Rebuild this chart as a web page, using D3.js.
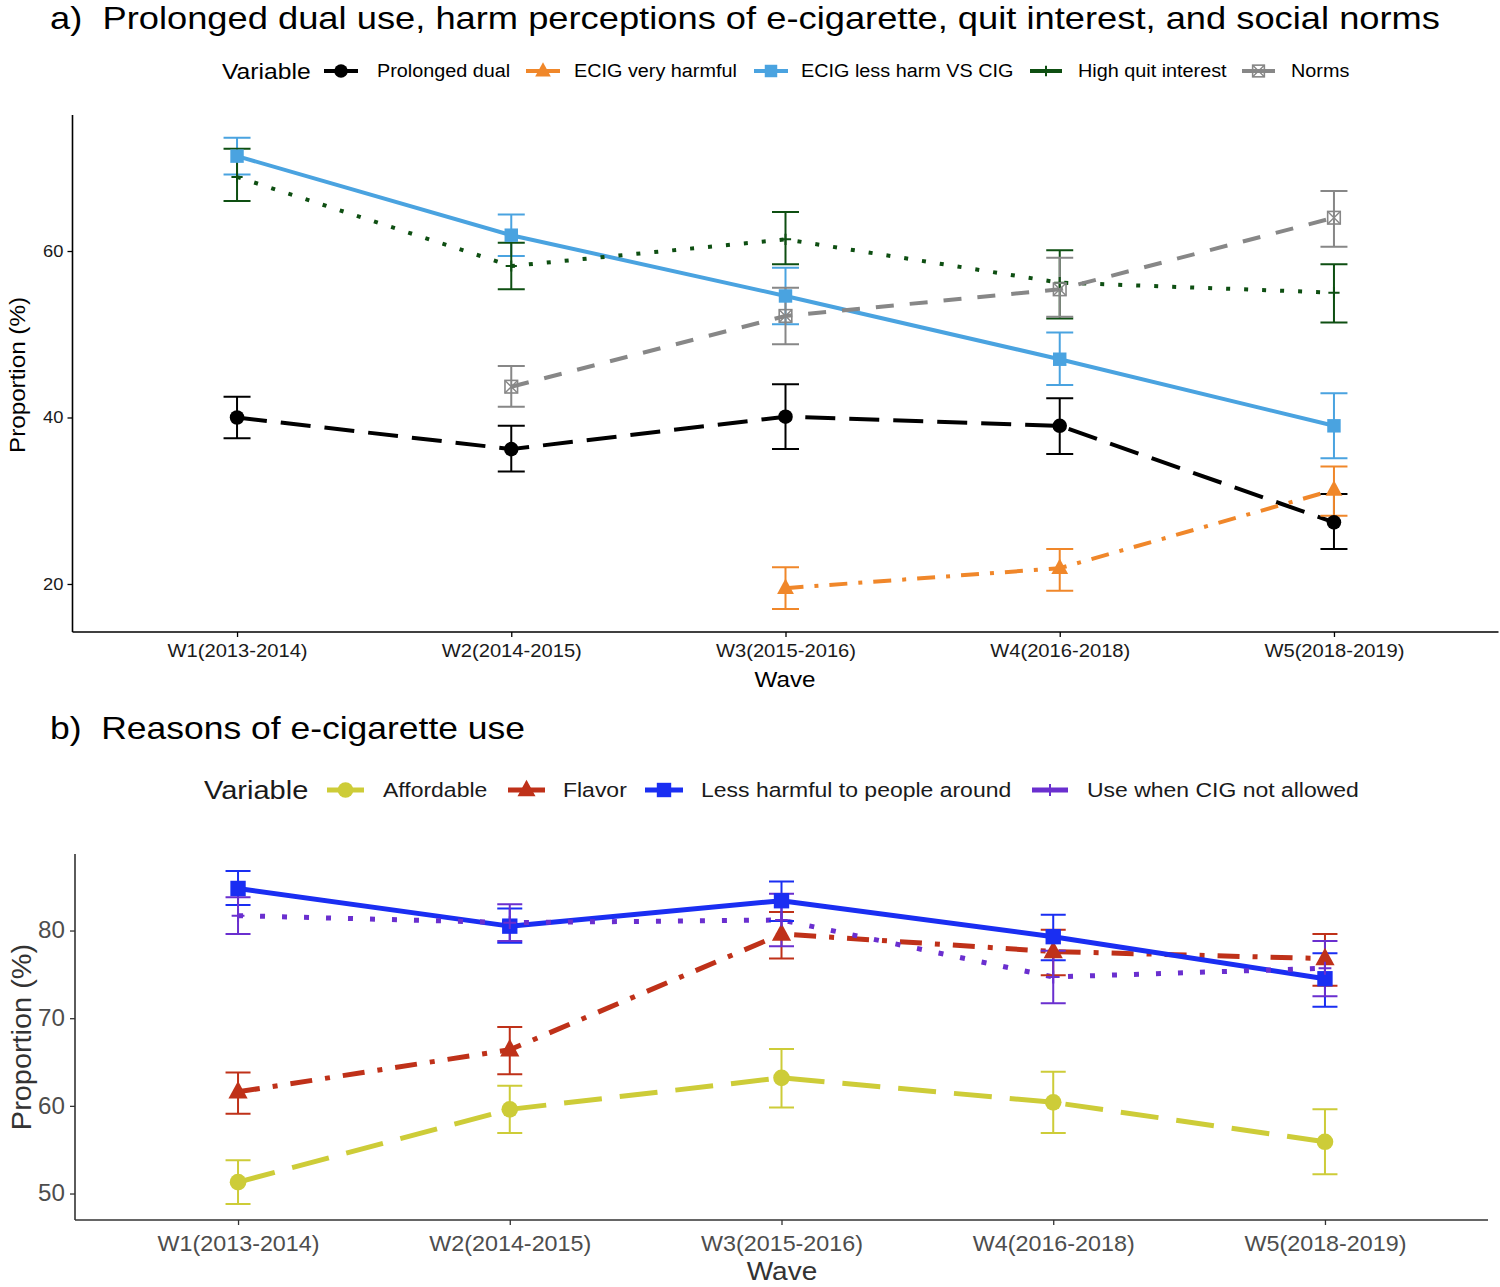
<!DOCTYPE html>
<html><head><meta charset="utf-8">
<script src="https://cdn.jsdelivr.net/npm/d3@7"></script>
<style>body{margin:0;background:#fff}svg{display:block}text{font-family:"Liberation Sans",Arial,sans-serif;white-space:pre}</style>
</head><body>
<svg id="c" width="1500" height="1287"></svg>
<script>
// ---------- DATA ----------
const waves = ["W1(2013-2014)","W2(2014-2015)","W3(2015-2016)","W4(2016-2018)","W5(2018-2019)"];

// Panel a
const seriesA = ["Prolonged dual","ECIG very harmful","ECIG less harm VS CIG","High quit interest","Norms"];
const dualVal  = [40.0, 36.2, 40.1, 39.0, 27.4];
const dualLo   = [37.5, 33.5, 36.2, 35.6, 24.2];
const dualHi   = [42.5, 39.0, 44.0, 42.3, 30.8];
const harmVal  = [null, null, 19.5, 21.9, 31.3];
const harmLo   = [null, null, 17.0, 19.2, 28.2];
const harmHi   = [null, null, 22.0, 24.2, 34.1];
const lessVal  = [71.4, 61.9, 54.6, 47.0, 39.0];
const lessLo   = [69.2, 59.4, 51.2, 43.9, 35.1];
const lessHi   = [73.6, 64.4, 58.0, 50.2, 42.9];
const quitVal  = [68.9, 58.2, 61.4, 56.2, 55.0];
const quitLo   = [66.0, 55.4, 58.4, 51.9, 51.4];
const quitHi   = [72.3, 61.0, 64.7, 60.1, 58.4];
const normVal  = [null, 43.7, 52.2, 55.4, 64.0];
const normLo   = [null, 41.3, 48.8, 52.1, 60.5];
const normHi   = [null, 46.2, 55.6, 59.2, 67.2];

// Panel b
const seriesB = ["Affordable","Flavor","Less harmful to people around","Use when CIG not allowed"];
const affVal  = [51.3, 59.6, 63.2, 60.4, 55.9];
const affLo   = [48.8, 56.9, 59.8, 56.9, 52.2];
const affHi   = [53.8, 62.3, 66.5, 63.9, 59.6];
const flavVal = [61.6, 66.4, 79.6, 77.6, 76.8];
const flavLo  = [59.1, 63.6, 76.8, 74.9, 73.7];
const flavHi  = [63.8, 69.0, 82.1, 80.1, 79.6];
const peopVal = [84.8, 80.5, 83.4, 79.3, 74.5];
const peopLo  = [82.9, 78.6, 81.1, 76.6, 71.3];
const peopHi  = [86.8, 82.5, 85.6, 81.8, 77.4];
const allowVal= [81.7, 80.9, 81.2, 74.7, 75.7];
const allowLo = [79.6, 78.8, 78.2, 71.7, 72.5];
const allowHi = [83.8, 83.0, 84.2, 77.7, 78.8];

const yTicksA = [20, 40, 60];
const yTicksB = [50, 60, 70, 80];

// ---------- STYLES ----------
const stylesA = [
  {vals:dualVal, lo:dualLo, hi:dualHi, color:"#000000", dash:"30,14", shape:"circle", lw:4},
  {vals:harmVal, lo:harmLo, hi:harmHi, color:"#F0872A", dash:"18,11,4,11", shape:"triangle", lw:4},
  {vals:lessVal, lo:lessLo, hi:lessHi, color:"#4AA3E0", dash:null, shape:"square", lw:4},
  {vals:quitVal, lo:quitLo, hi:quitHi, color:"#0E4F12", dash:"4,14", shape:"plus", lw:4},
  {vals:normVal, lo:normLo, hi:normHi, color:"#878787", dash:"18,16", shape:"sqx", lw:4}
];
const stylesB = [
  {vals:affVal, lo:affLo, hi:affHi, color:"#CDCC38", dash:"38,18", shape:"circle", lw:5},
  {vals:flavVal, lo:flavLo, hi:flavHi, color:"#BF3119", dash:"22,13,5,13", shape:"triangle", lw:5},
  {vals:peopVal, lo:peopLo, hi:peopHi, color:"#1A2EF2", dash:null, shape:"square", lw:5},
  {vals:allowVal, lo:allowLo, hi:allowHi, color:"#6A2FCF", dash:"5,17", shape:"plus", lw:5}
];

const svg = d3.select("#c");

function stretch(sel, f) {
  sel.each(function() {
    const l = this.getComputedTextLength();
    this.setAttribute("textLength", (l * f).toFixed(1));
    this.setAttribute("lengthAdjust", "spacingAndGlyphs");
  });
  return sel;
}

function marker(g, shape, x, y, color, s) {
  if (shape === "circle") {
    g.append("circle").attr("cx", x).attr("cy", y).attr("r", s*0.52).attr("fill", color);
  } else if (shape === "square") {
    g.append("rect").attr("x", x-s*0.48).attr("y", y-s*0.48).attr("width", s*0.96).attr("height", s*0.96).attr("fill", color);
  } else if (shape === "triangle") {
    const h = s*1.1, w = s*1.2;
    g.append("path").attr("d", `M${x},${y-h*0.62}L${x+w/2},${y+h*0.38}L${x-w/2},${y+h*0.38}Z`).attr("fill", color);
  } else if (shape === "plus") {
    const r = s*0.4;
    g.append("path").attr("d", `M${x-r},${y}H${x+r}M${x},${y-r}V${y+r}`).attr("stroke", color).attr("stroke-width", 2).attr("fill","none");
  } else if (shape === "sqx") {
    const r = s*0.45;
    g.append("rect").attr("x", x-r).attr("y", y-r).attr("width", 2*r).attr("height", 2*r).attr("fill","none").attr("stroke", color).attr("stroke-width", 1.6);
    g.append("path").attr("d", `M${x-r},${y-r}L${x+r},${y+r}M${x+r},${y-r}L${x-r},${y+r}`).attr("stroke", color).attr("stroke-width", 1.4);
  }
}

function panel(opts) {
  const {xRange, yDomain, yRange, yTicks, styles, capW, mSize, xFont, yFont, xPad, yPad, tickColor, axisColor, xStretch, yStretch} = opts;
  const x = d3.scalePoint().domain(waves).range(xRange).padding(0.6);
  const y = d3.scaleLinear().domain(yDomain).range(yRange);
  const g = svg.append("g");

  const yAx = g.append("g").attr("transform", `translate(${xRange[0]},0)`)
    .call(d3.axisLeft(y).tickValues(yTicks).tickSize(5).tickPadding(yPad).tickSizeOuter(0));
  const xAx = g.append("g").attr("transform", `translate(0,${yRange[0]})`)
    .call(d3.axisBottom(x).tickSize(5).tickPadding(xPad).tickSizeOuter(0));
  [yAx, xAx].forEach(a => {
    a.select(".domain").attr("stroke", axisColor).attr("stroke-width", 1.6);
    a.selectAll(".tick line").attr("stroke", axisColor).attr("stroke-width", 1.3);
    a.selectAll("text").attr("fill", tickColor).attr("font-family", "Liberation Sans, Arial, sans-serif");
  });
  yAx.selectAll("text").attr("font-size", yFont);
  xAx.selectAll("text").attr("font-size", xFont);
  stretch(yAx.selectAll("text"), yStretch);
  stretch(xAx.selectAll("text"), xStretch);
  yAx.select(".domain").attr("d", `M0,${yRange[1]}V${yRange[0]}`);
  xAx.select(".domain").attr("d", `M${xRange[0]},0H${xRange[1]}`);

  styles.forEach(s => {
    const pts = waves.map((w,i) => s.vals[i] == null ? null : [x(w), y(s.vals[i])]).filter(p => p);
    g.append("path").attr("d", d3.line()(pts)).attr("fill","none").attr("stroke", s.color)
      .attr("stroke-width", s.lw).attr("stroke-dasharray", s.dash).attr("stroke-linejoin","round");
  });
  styles.forEach(s => {
    const eg = g.append("g").attr("stroke", s.color).attr("stroke-width", 2).attr("fill","none");
    waves.forEach((w,i) => {
      if (s.vals[i] == null) return;
      const cx = x(w), yl = y(s.lo[i]), yh = y(s.hi[i]);
      eg.append("path").attr("d", `M${cx},${yl}V${yh}M${cx-capW/2},${yl}H${cx+capW/2}M${cx-capW/2},${yh}H${cx+capW/2}`);
    });
  });
  styles.forEach(s => {
    const mg = g.append("g");
    waves.forEach((w,i) => {
      if (s.vals[i] == null) return;
      marker(mg, s.shape, x(w), y(s.vals[i]), s.color, mSize);
    });
  });
  return {x, y};
}

// Panel a
panel({xRange:[72.5, 1498.5], yDomain:[14.23, 76.34], yRange:[632, 115], yTicks:yTicksA,
  styles:stylesA, capW:27, mSize:14, xFont:"18px", yFont:"17px", xPad:7, yPad:4,
  tickColor:"#1a1a1a", axisColor:"#000", xStretch:1.12, yStretch:1.08});
// Panel b
panel({xRange:[75, 1488], yDomain:[46.98, 88.73], yRange:[1220, 854], yTicks:yTicksB,
  styles:stylesB, capW:25, mSize:16, xFont:"22px", yFont:"23px", xPad:10, yPad:5,
  tickColor:"#4d4d4d", axisColor:"#333", xStretch:1.06, yStretch:1.05});

// titles
svg.append("text").attr("x", 50).attr("y", 29).attr("font-size", 32).attr("fill","#000")
  .attr("textLength", 1390).attr("lengthAdjust","spacingAndGlyphs")
  .text("a)  Prolonged dual use, harm perceptions of e-cigarette, quit interest, and social norms");
svg.append("text").attr("x", 50).attr("y", 739).attr("font-size", 32).attr("fill","#000")
  .attr("textLength", 475).attr("lengthAdjust","spacingAndGlyphs")
  .text("b)  Reasons of e-cigarette use");

// axis titles
stretch(svg.append("text").attr("x", 785).attr("y", 687).attr("text-anchor","middle").attr("font-size", 22).text("Wave"), 1.1);
stretch(svg.append("text").attr("transform","translate(25,375) rotate(-90)").attr("text-anchor","middle").attr("font-size", 22).text("Proportion (%)"), 1.1);
stretch(svg.append("text").attr("x", 782).attr("y", 1280).attr("text-anchor","middle").attr("font-size", 25).attr("fill","#333").text("Wave"), 1.12);
stretch(svg.append("text").attr("transform","translate(31,1037) rotate(-90)").attr("text-anchor","middle").attr("font-size", 27).attr("fill","#333").text("Proportion (%)"), 1.07);

// legends
function legend(names, styles, opts) {
  const {y, titleX, titleSize, labelSize, keyXs, textXs, mSize, color, tStretch, lStretch} = opts;
  const g = svg.append("g");
  stretch(g.append("text").attr("x", titleX).attr("y", y + titleSize*0.36).attr("font-size", titleSize).attr("fill", color).text("Variable"), tStretch);
  names.forEach((n,i) => {
    const s = styles[i];
    const k0 = keyXs[i][0], k1 = keyXs[i][1], km = (k0+k1)/2;
    g.append("line").attr("x1", k0).attr("x2", k1).attr("y1", y).attr("y2", y).attr("stroke", s.color).attr("stroke-width", s.lw);
    marker(g, s.shape, km, y, s.color, mSize);
    stretch(g.append("text").attr("x", textXs[i]).attr("y", y + labelSize*0.36).attr("font-size", labelSize).attr("fill", color).text(n), lStretch);
  });
}
legend(seriesA, stylesA, {y:71, titleX:222, titleSize:22, labelSize:18, tStretch:1.12, lStretch:1.1,
  keyXs:[[324,358],[526,560],[754,788],[1030,1062],[1242,1275]], textXs:[377,574,801,1078,1291], mSize:13, color:"#000"});
legend(seriesB, stylesB, {y:790, titleX:204, titleSize:25, labelSize:20.5, tStretch:1.16, lStretch:1.12,
  keyXs:[[327,364],[508,545],[645,683],[1032,1068]], textXs:[383,563,701,1087], mSize:15, color:"#1a1a1a"});
</script>
</body></html>
